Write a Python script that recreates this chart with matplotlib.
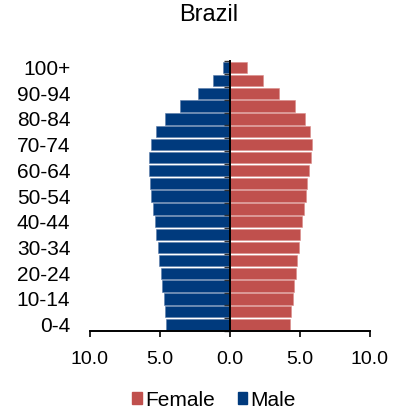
import matplotlib
matplotlib.use("Agg")
import matplotlib.pyplot as plt
from matplotlib.patches import Patch
from matplotlib.ticker import FixedLocator, FuncFormatter
import numpy as np

plt.rcParams['font.family'] = ['Liberation Sans', 'DejaVu Sans']

age_groups = ["0-4", "5-9", "10-14", "15-19", "20-24", "25-29", "30-34", "35-39",
              "40-44", "45-49", "50-54", "55-59", "60-64", "65-69", "70-74",
              "75-79", "80-84", "85-89", "90-94", "95-99", "100+"]
male = [4.55, 4.64, 4.74, 4.83, 4.93, 5.05, 5.14, 5.26, 5.38, 5.50, 5.62,
        5.69, 5.76, 5.76, 5.67, 5.31, 4.62, 3.55, 2.26, 1.19, 0.48]
female = [4.31, 4.38, 4.48, 4.57, 4.69, 4.79, 4.90, 5.02, 5.14, 5.29, 5.40,
          5.52, 5.64, 5.76, 5.83, 5.74, 5.38, 4.64, 3.50, 2.38, 1.24]
x_ticks = [-10, -5, 0, 5, 10]
title = "Brazil"

red = "#C0504D"
blue = "#003A7D"

W, H = 402, 413
fig = plt.figure(figsize=(W / 100, H / 100), dpi=100)
left, right = 90 / W, 370 / W
bottom, top = 1 - 331.1 / H, 1 - 61.1 / H
ax = fig.add_axes([left, bottom, right - left, top - bottom])

y = np.arange(len(age_groups))
ax.barh(y, [-v for v in male], height=0.88, color=blue, edgecolor="#5a7aa8", linewidth=0.4, zorder=1)
ax.barh(y, female, height=0.88, color=red, edgecolor="#d88c8a", linewidth=0.4, zorder=1)

ax.set_xlim(-10, 10)
ax.set_ylim(-0.5, len(age_groups) - 0.5)

for s in ["top", "right"]:
    ax.spines[s].set_visible(False)
ax.spines["left"].set_position(("data", 0))
ax.spines["left"].set_linewidth(1.4)
ax.spines["left"].set_zorder(3)
ax.spines["bottom"].set_linewidth(1.4)

ax.set_xticks(x_ticks)
ax.xaxis.set_major_formatter(FuncFormatter(lambda v, p: f"{abs(v):.1f}"))
ax.tick_params(axis="x", length=4, width=1.2, pad=10, labelsize=14, colors="black")

ax.yaxis.set_major_locator(FixedLocator(y[::2]))
ax.set_yticklabels(age_groups[::2])
ax.yaxis.set_minor_locator(FixedLocator(np.arange(-0.5, len(age_groups), 1.0)))
ax.tick_params(axis="y", which="major", length=0, pad=115, labelsize=15)
ax.tick_params(axis="y", which="minor", length=4.5, width=1.0, color="#333333", direction="out")

fig.text(209 / W, 1 - 21 / H, title, ha="center", va="baseline", fontsize=17)

handles = [Patch(facecolor=red, edgecolor=red, label="Female"),
           Patch(facecolor=blue, edgecolor=blue, label="Male")]
fig.legend(handles=handles, loc="center", bbox_to_anchor=(214 / W, 1 - 400 / H),
           ncol=2, frameon=False, fontsize=15, handlelength=0.45, handleheight=0.45,
           handletextpad=0.15, columnspacing=1.1, borderpad=0)

fig.savefig("out.png", dpi=100)
